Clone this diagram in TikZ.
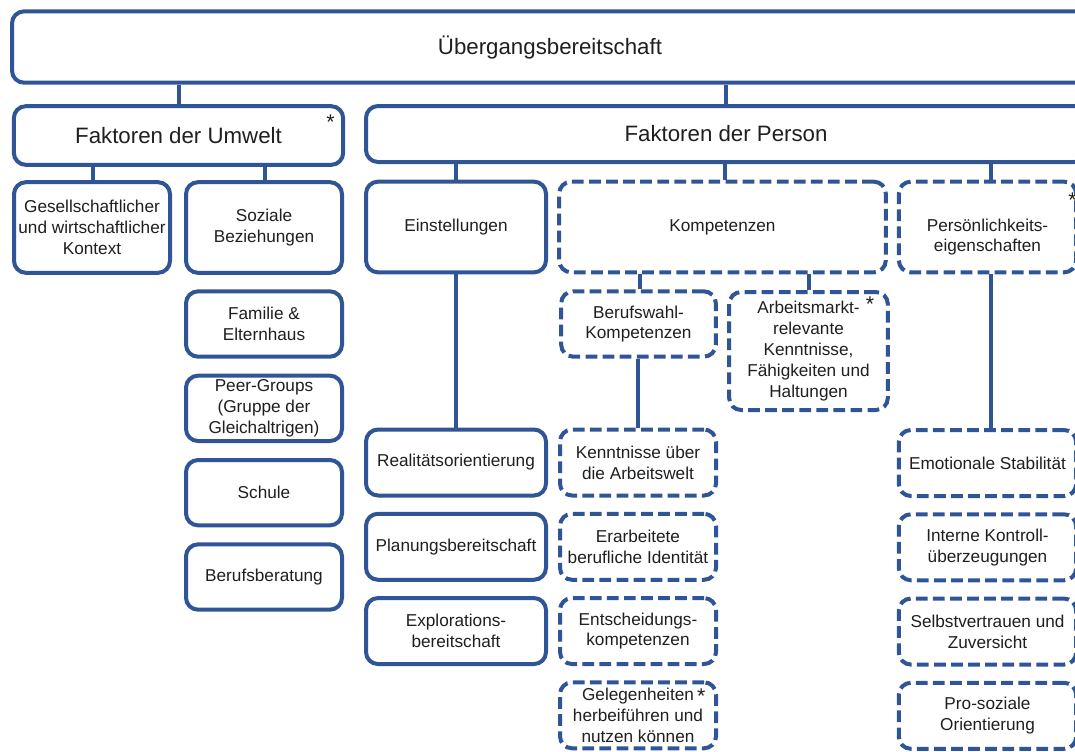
\documentclass[tikz,border=0pt]{standalone}
\usepackage{fontspec}
\setmainfont{Liberation Sans}
\usetikzlibrary{positioning}
\definecolor{boxblue}{HTML}{2F5597}

\begin{document}
\begin{tikzpicture}[x=0.75pt,y=-0.75pt,
  box/.style={draw=boxblue,line width=3pt,rounded corners=9pt,fill=white,
    align=center,inner sep=0pt,text=black!88,font=\fontsize{12.9}{15.6}\selectfont},
  dbox/.style={box,dash pattern=on 8.8pt off 4pt},
  big/.style={font=\fontsize{16.7}{20}\selectfont},
  link/.style={draw=boxblue,line width=3pt},
  lbl/.style={align=center,inner sep=0pt,text=black!88,font=\fontsize{12.9}{15.6}\selectfont},
  ast/.style={inner sep=0pt,text=black!88,font=\fontsize{16}{18}\selectfont}]
\clip(0,0) rectangle (1075,751);
%
\node[box,big,minimum width=807pt,minimum height=53.5pt] (top) at (550,47) {Übergangsbereitschaft};
\node[box,big,minimum width=247pt,minimum height=44pt] (umwelt) at (178.5,135.5) {Faktoren der Umwelt};
\node[box,big,minimum width=540pt,minimum height=42pt] (person) at (726,134) {Faktoren der Person};
%
\node[box,minimum width=117pt,minimum height=68pt] (gesell) at (92,227.5) {Gesellschaftlicher\\und wirtschaftlicher\\Kontext};
\node[box,minimum width=117pt,minimum height=68pt] (sozial) at (264,227.5) {Soziale\\Beziehungen};
\node[box,minimum width=135pt,minimum height=68pt] (einst) at (456,227) {Einstellungen};
\node[dbox,minimum width=245pt,minimum height=68pt] (kompet) at (722.5,227) {Kompetenzen};
\node[dbox,minimum width=133pt,minimum height=68pt,
  label={[lbl,yshift=-7.5pt]center:Persönlichkeits-\\eigenschaften}] (persoenl) at (987.5,227) {};
%
\node[box,minimum width=117pt,minimum height=49pt] (familie) at (264,324) {Familie \&\\Elternhaus};
\node[box,minimum width=117pt,minimum height=49pt,below=11.25pt of familie] (peer) {Peer-Groups\\(Gruppe der\\Gleichaltrigen)};
\node[box,minimum width=117pt,minimum height=49pt,below=11.25pt of peer] (schule) {Schule};
\node[box,minimum width=117pt,minimum height=49pt,below=11.25pt of schule] (beratung) {Berufsberatung};
%
\node[dbox,minimum width=116pt,minimum height=49pt] (berufswahl) at (638.5,324) {Berufswahl-\\Kompetenzen};
\node[dbox,minimum width=119pt,minimum height=88.5pt] (arbeitsm) at (808.5,351) {Arbeitsmarkt-\\relevante\\Kenntnisse,\\Fähigkeiten und\\Haltungen};
%
\node[box,minimum width=135pt,minimum height=49.5pt] (real) at (456,462.5) {Realitätsorientierung};
\node[box,minimum width=135pt,minimum height=49.5pt,below=10.7pt of real] (planung) {Planungsbereitschaft};
\node[box,minimum width=135pt,minimum height=49.5pt,below=10.7pt of planung] (explor) {Explorations-\\bereitschaft};
%
\node[dbox,minimum width=117pt,minimum height=49.5pt] (kenntn) at (638,462.5) {Kenntnisse über\\die Arbeitswelt};
\node[dbox,minimum width=117pt,minimum height=49.5pt,below=10.7pt of kenntn] (erarb) {Erarbeitete\\berufliche Identität};
\node[dbox,minimum width=117pt,minimum height=49.5pt,below=10.7pt of erarb] (entsch) {Entscheidungs-\\kompetenzen};
\node[dbox,minimum width=117pt,minimum height=49.5pt,below=10.7pt of entsch] (geleg) {Gelegenheiten\\herbeiführen und\\nutzen können};
%
\node[dbox,minimum width=133pt,minimum height=49.5pt] (emot) at (987.5,463) {Emotionale Stabilität};
\node[dbox,minimum width=133pt,minimum height=49.5pt,below=10.7pt of emot] (interne) {Interne Kontroll-\\überzeugungen};
\node[dbox,minimum width=133pt,minimum height=49.5pt,below=10.7pt of interne] (selbst) {Selbstvertrauen und\\Zuversicht};
\node[dbox,minimum width=133pt,minimum height=49.5pt,below=10.7pt of selbst] (prosozial) {Pro-soziale\\Orientierung};
%
\draw[link](umwelt.north)--(umwelt.north |- top.south);
\draw[link](person.north)--(person.north |- top.south);
\draw[link]([xshift=0.75pt]gesell.north)--([xshift=0.75pt]gesell.north |- umwelt.south);
\draw[link]([xshift=0.75pt]sozial.north)--([xshift=0.75pt]sozial.north |- umwelt.south);
\draw[link](einst.north)--(einst.north |- person.south);
\draw[link]([xshift=2pt]kompet.north)--([xshift=2pt]kompet.north |- person.south);
\draw[link]([xshift=2.6pt]persoenl.north)--([xshift=2.6pt]persoenl.north |- person.south);
\draw[link]([xshift=1pt]berufswahl.north)--([xshift=1pt]berufswahl.north |- kompet.south);
\draw[link](arbeitsm.north)--(arbeitsm.north |- kompet.south);
\draw[link](real.north)--(real.north |- einst.south);
\draw[link](kenntn.north)--(kenntn.north |- berufswahl.south);
\draw[link]([xshift=2.6pt]emot.north)--([xshift=2.6pt]emot.north |- persoenl.south);
%
\node[ast] (umweltstar) at ([xshift=-11pt,yshift=-13.6pt]umwelt.north east) {*};
\node[ast] (persoenlstar) at ([xshift=-4.3pt,yshift=-15.2pt]persoenl.north east) {*};
\node[ast] (arbeitsmstar) at ([xshift=-14.8pt,yshift=-10.7pt]arbeitsm.north east) {*};
\node[ast] (gelegstar) at ([xshift=-12.5pt,yshift=-11.9pt]geleg.north east) {*};
\end{tikzpicture}
\end{document}
